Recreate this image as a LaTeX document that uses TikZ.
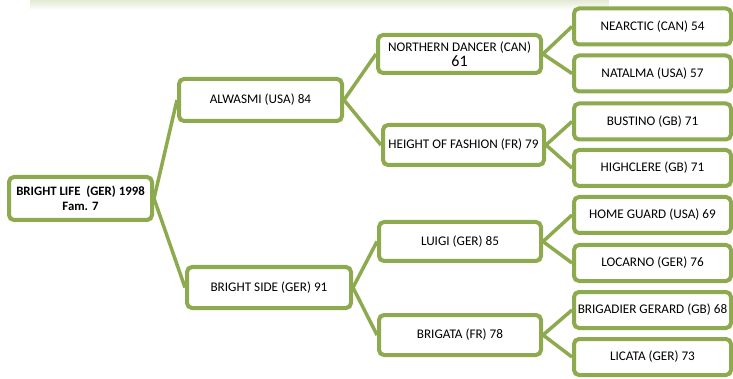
\documentclass[tikz,border=0pt]{standalone}
\usepackage{fontspec}
\setmainfont{Carlito}
\usetikzlibrary{fadings}

\definecolor{pedgreen}{HTML}{8DAA4E}
\tikzset{
  horse/.style={draw=pedgreen, line width=4pt, rounded corners=5pt, fill=white,
    align=center, inner sep=1pt, font=\fontsize{13.2}{14.5}\selectfont},
  link/.style={draw=pedgreen, line width=3.5pt},
}

\begin{document}
\begin{tikzpicture}[x=1pt,y=-1pt]
\useasboundingbox (0,0) rectangle (733,379);
\fill[pedgreen!25, path fading=south] (30,0) rectangle (610,10);

% generations, left to right
\node[horse, minimum width=143pt, minimum height=43pt, font=\fontsize{12.8}{14.5}\selectfont\bfseries] (root) at (80.5,198.5) {BRIGHT LIFE~~(GER) 1998\\Fam. 7};

\node[horse, minimum width=163pt, minimum height=42pt] (alwasmi) at (260.5,100) {ALWASMI (USA) 84};
\node[horse, minimum width=164pt, minimum height=41pt] (brightside) at (269,287.5) {BRIGHT SIDE (GER) 91};

\node[horse, minimum width=163pt, minimum height=38pt] (northern) at (459.5,54) {NORTHERN DANCER (CAN)\\{\fontsize{16}{16}\selectfont 61}};
\node[horse, minimum width=161pt, minimum height=40pt] (height) at (463.5,145) {HEIGHT OF FASHION (FR) 79};
\node[horse, minimum width=162pt, minimum height=39pt] (luigi) at (460,241.5) {LUIGI (GER) 85};
\node[horse, minimum width=162pt, minimum height=40pt] (brigata) at (460,335) {BRIGATA (FR) 78};

\foreach \n/\y/\txt in {nearctic/26.5/NEARCTIC (CAN) 54, natalma/73.5/NATALMA (USA) 57,
    bustino/121.5/BUSTINO (GB) 71, highclere/168/HIGHCLERE (GB) 71,
    homeguard/215/HOME GUARD (USA) 69, locarno/263/LOCARNO (GER) 76,
    brigadier/310/BRIGADIER GERARD (GB) 68, licata/357/LICATA (GER) 73}
  \node[horse, minimum width=157pt, minimum height=36pt] (\n) at (652.5,\y) {\txt};

% links
\foreach \p/\a/\b in {root/alwasmi/brightside, alwasmi/northern/height,
    brightside/luigi/brigata, northern/nearctic/natalma, height/bustino/highclere,
    luigi/homeguard/locarno, brigata/brigadier/licata}
  \draw[link] (\a.west) -- (\p.east) -- (\b.west);
\end{tikzpicture}
\end{document}
